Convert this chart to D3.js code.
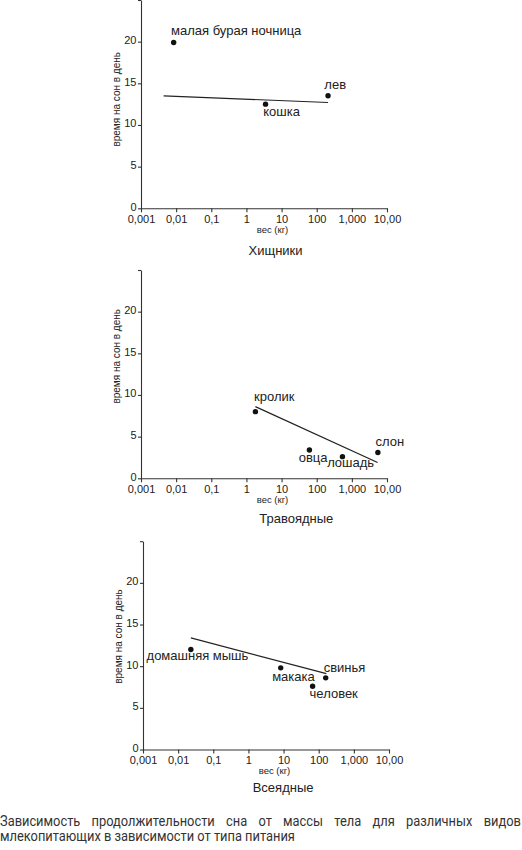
<!DOCTYPE html>
<html lang="ru">
<head>
    <meta charset="UTF-8">
    <title>Сон и масса тела</title>
    <script src="https://d3js.org/d3.v7.min.js"></script>
    <style>
        body { margin: 0; background: #fff; }
        svg { display: block; }
        .axis path, .axis line { stroke: #333; stroke-width: 1.1; }
        .axis text { font-family: "Liberation Sans", Arial, sans-serif; font-size: 11px; fill: #222; }
    </style>
</head>
<body>
<div id="chart"></div>

<script>
    // данные
    const panelTitles = ["Хищники", "Травоядные", "Всеядные"];

    const carnNames = ["малая бурая ночница", "кошка", "лев"];
    const carnWeight = [0.0085, 3.5, 210];
    const carnSleep = [19.9, 12.5, 13.5];
    const carnFitWeight = [0.0044, 210];
    const carnFitSleep = [13.5, 12.7];

    const herbNames = ["кролик", "овца", "лошадь", "слон"];
    const herbWeight = [1.8, 62, 540, 5500];
    const herbSleep = [8.0, 3.4, 2.6, 3.1];
    const herbFitWeight = [1.8, 5400];
    const herbFitSleep = [8.6, 1.9];

    const omniNames = ["домашняя мышь", "макака", "человек", "свинья"];
    const omniWeight = [0.023, 8.3, 67, 158];
    const omniSleep = [12.0, 9.8, 7.6, 8.6];
    const omniFitWeight = [0.023, 165];
    const omniFitSleep = [13.4, 9.1];

    const xTicks = [0.001, 0.01, 0.1, 1, 10, 100, 1000, 10000];
    const xTickLabels = ["0,001", "0,01", "0,1", "1", "10", "100", "1,000", "10,00"];
    const yTicks = [0, 5, 10, 15, 20, 25];
    const yTickLabels = ["0", "5", "10", "15", "20", ""];

    const captionLines = [
        "Зависимость продолжительности сна от массы тела для различных видов",
        "млекопитающих в зависимости от типа питания"
    ];

    // раскладка
    const W = 522, H = 850;
    const plotW = 246, plotH = 208.3;
    const layout = [
        {left: 141, bottom: 208.3, titleX: 248.5, titleDy: 46.5, yLabelDy: -109,
         offsets: [[-2.6, -7], [-2.3, 11.7], [-3.7, -6.7]]},
        {left: 141, bottom: 478.3, titleX: 259.3, titleDy: 45, yLabelDy: -122,
         offsets: [[-1.3, -10.3], [-10.7, 11.7], [-15.3, 10.5], [-2.4, -6.7]]},
        {left: 143, bottom: 749.5, titleX: 252.7, titleDy: 43, yLabelDy: -113,
         offsets: [[-44.3, 10.7], [-8.6, 12.7], [-3, 11.6], [-2, -6.3]]}
    ];

    const groups = [
        {names: carnNames, w: carnWeight, s: carnSleep, fw: carnFitWeight, fs: carnFitSleep},
        {names: herbNames, w: herbWeight, s: herbSleep, fw: herbFitWeight, fs: herbFitSleep},
        {names: omniNames, w: omniWeight, s: omniSleep, fw: omniFitWeight, fs: omniFitSleep}
    ];

    let svg = d3.select("#chart").append("svg")
        .attr("width", W)
        .attr("height", H);

    let x = d3.scaleLog().domain([0.001, 10000]).range([0, plotW]);
    let y = d3.scaleLinear().domain([0, 25]).range([plotH, 0]);

    groups.forEach((g, p) => {
        let L = layout[p];
        let panel = svg.append("g")
            .attr("transform", `translate(${L.left},${L.bottom - plotH})`);

        panel.append("g")
            .attr("class", "axis")
            .attr("transform", `translate(0,${plotH})`)
            .call(d3.axisBottom(x).tickValues(xTicks)
                .tickFormat((d, i) => xTickLabels[i])
                .tickSize(4).tickSizeOuter(0).tickPadding(2.5));

        panel.append("g")
            .attr("class", "axis")
            .call(d3.axisLeft(y).tickValues(yTicks)
                .tickFormat((d, i) => yTickLabels[i])
                .tickSize(3).tickSizeOuter(0).tickPadding(1.5))
            .selectAll("text")
            .attr("dy", "0.18em");

        // подписи осей
        panel.append("text")
            .attr("transform", `translate(-21.5,${plotH + L.yLabelDy}) rotate(-90)`)
            .attr("text-anchor", "middle")
            .attr("font-family", "Liberation Sans, Arial, sans-serif")
            .attr("font-size", 10)
            .attr("fill", "#222")
            .text("время на сон в день");

        panel.append("text")
            .attr("x", 131.5)
            .attr("y", plotH + 25)
            .attr("text-anchor", "middle")
            .attr("font-family", "Liberation Sans, Arial, sans-serif")
            .attr("font-size", 9.5)
            .attr("fill", "#222")
            .text("вес (кг)");

        panel.append("text")
            .attr("x", L.titleX - L.left)
            .attr("y", plotH + L.titleDy)
            .attr("font-family", "Liberation Sans, Arial, sans-serif")
            .attr("font-size", 13)
            .attr("fill", "#222")
            .text(panelTitles[p]);

        // линия тренда
        let line = d3.line().x(d => x(d[0])).y(d => y(d[1]));
        panel.append("path")
            .datum(d3.zip(g.fw, g.fs))
            .attr("d", line)
            .attr("fill", "none")
            .attr("stroke", "#222")
            .attr("stroke-width", 1.2);

        let pts = g.names.map((n, i) => ({name: n, w: g.w[i], s: g.s[i], off: L.offsets[i]}));

        panel.selectAll("circle")
            .data(pts)
            .enter()
            .append("circle")
            .attr("cx", d => x(d.w))
            .attr("cy", d => y(d.s))
            .attr("r", 2.7)
            .attr("fill", "#111");

        panel.selectAll("text.lbl")
            .data(pts)
            .enter()
            .append("text")
            .attr("class", "lbl")
            .attr("x", d => x(d.w) + d.off[0])
            .attr("y", d => y(d.s) + d.off[1])
            .attr("font-family", "Liberation Sans, Arial, sans-serif")
            .attr("font-size", 13)
            .attr("fill", "#222")
            .text(d => d.name);
    });

    // подпись под рисунком, узкий шрифт, первая строка по ширине
    let cap = svg.append("g");
    let t1 = cap.append("text")
        .attr("font-family", "Roboto, sans-serif")
        .attr("font-weight", 400)
        .attr("font-size", 14)
        .attr("fill", "#333")
        .text(captionLines[0]);
    let t2 = cap.append("text")
        .attr("font-family", "Roboto, sans-serif")
        .attr("font-weight", 400)
        .attr("font-size", 14)
        .attr("fill", "#333")
        .text(captionLines[1]);

    let sx = 295 / t2.node().getComputedTextLength();
    let w1 = t1.node().getComputedTextLength();
    let spaces = captionLines[0].split(" ").length - 1;
    t1.attr("word-spacing", ((W - 1) / sx - w1) / spaces)
        .attr("transform", `translate(0,826) scale(${sx},1)`);
    t2.attr("transform", `translate(0,841) scale(${sx},1)`);
</script>

</body>
</html>
